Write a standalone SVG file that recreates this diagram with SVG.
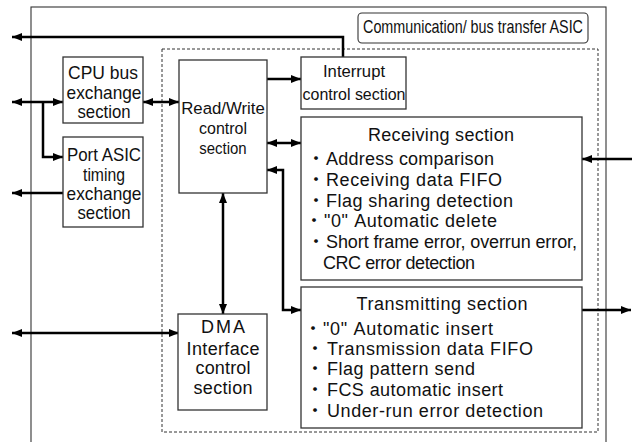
<svg xmlns="http://www.w3.org/2000/svg" width="632" height="442" viewBox="0 0 632 442">
  <defs>
    <marker id="arr" viewBox="0 0 10 8" refX="10" refY="4" markerWidth="10" markerHeight="8" markerUnits="userSpaceOnUse" orient="auto-start-reverse">
      <path d="M0,0 L10,4 L0,8 z" fill="#000"/>
    </marker>
  </defs>
  <style>
    .box { fill: #fff; stroke: #333; stroke-width: 1.3; }
    .outer { fill: none; stroke: #333; stroke-width: 1.1; }
    .dash { fill: none; stroke: #333; stroke-width: 1; stroke-dasharray: 3 2; }
    .t { font-family: "Liberation Sans", Arial, "Noto Sans CJK JP", sans-serif; font-size: 18px; fill: #111; }
    .c { text-anchor: middle; }
    .s17 { font-size: 17px; }
    .dot { font-family: "Noto Sans CJK JP", sans-serif; }
    .wire { fill: none; stroke: #000; stroke-width: 2.5; }
    .one { marker-end: url(#arr); }
    .two { marker-start: url(#arr); marker-end: url(#arr); }
  </style>

  <rect width="632" height="442" fill="#fff"/>

  <!-- ASIC enclosure and its name tag -->
  <g id="asic">
    <rect class="outer" x="31" y="7" width="575" height="460"/>
    <rect class="box" x="358" y="13" width="230" height="30" rx="4" ry="4" style="stroke-width:1.1"/>
    <text class="t c" transform="translate(473,33) scale(0.797,1)">Communication/ bus transfer ASIC</text>
  </g>

  <!-- inner dashed boundary -->
  <g id="core">
    <rect class="dash" x="162" y="49" width="436" height="383"/>
  </g>

  <!-- connectors -->
  <g id="connectors">
    <path class="wire one" d="M343,57 V37 H12"/>
    <path class="wire two" d="M12,102 H63"/>
    <path class="wire one" d="M43,102 V157 H63"/>
    <path class="wire one" d="M63,193 H12"/>
    <path class="wire two" d="M143,102 H179"/>
    <path class="wire one" d="M267,79 H301"/>
    <path class="wire two" d="M267,143 H301"/>
    <path class="wire two" d="M267,170 H283 V310 H301"/>
    <path class="wire two" d="M223,193 V314"/>
    <path class="wire two" d="M12,333 H179"/>
    <path class="wire one" d="M632,159 H582"/>
    <path class="wire one" d="M582,310 H631"/>
  </g>

  <!-- horizontally narrowed labels use scale(sx,1) about their anchor -->
  <g id="cpu-bus">
    <rect class="box" x="63" y="57" width="80" height="66"/>
    <text class="t c" transform="translate(103,79) scale(0.972,1)">CPU bus</text>
    <text class="t c" transform="translate(104,99) scale(0.961,1)">exchange</text>
    <text class="t c" transform="translate(104,118) scale(0.93,1)">section</text>
  </g>

  <g id="port-asic">
    <rect class="box" x="63" y="137" width="80" height="90"/>
    <text class="t c" transform="translate(104,161) scale(0.937,1)">Port ASIC</text>
    <text class="t c" transform="translate(104,181) scale(0.875,1)">timing</text>
    <text class="t c" transform="translate(104,200) scale(0.961,1)">exchange</text>
    <text class="t c" transform="translate(104,219) scale(0.93,1)">section</text>
  </g>

  <g id="read-write">
    <rect class="box" x="179" y="60" width="88" height="133"/>
    <text class="t c s17" transform="translate(223,114) scale(0.988,1)">Read/Write</text>
    <text class="t c s17" transform="translate(223,134) scale(0.94,1)">control</text>
    <text class="t c s17" transform="translate(223,154) scale(0.88,1)">section</text>
  </g>

  <g id="interrupt">
    <rect class="box" x="301" y="57" width="105" height="52"/>
    <text class="t c s17" transform="translate(354,77) scale(0.98,1)">Interrupt</text>
    <text class="t c s17" transform="translate(354,100) scale(0.94,1)">control section</text>
  </g>

  <g id="dma">
    <rect class="box" x="178" y="314" width="89" height="96"/>
    <text class="t c" x="223" y="333" textLength="44">DMA</text>
    <text class="t c" x="223" y="355" textLength="73">Interface</text>
    <text class="t c" x="223" y="374" textLength="55">control</text>
    <text class="t c" x="223" y="394" textLength="59">section</text>
  </g>

  <g id="receiving">
    <rect class="box" x="301" y="117" width="281" height="163"/>
    <text class="t c" x="441" y="141" textLength="146">Receiving section</text>
    <text class="t" y="165"><tspan class="dot" x="307">・</tspan><tspan x="326" textLength="168">Address comparison</tspan></text>
    <text class="t" y="186"><tspan class="dot" x="307">・</tspan><tspan x="326" textLength="176">Receiving data FIFO</tspan></text>
    <text class="t" y="207"><tspan class="dot" x="307">・</tspan><tspan x="326" textLength="187">Flag sharing detection</tspan></text>
    <text class="t" y="227"><tspan class="dot" x="305">・</tspan><tspan x="324" textLength="173">"0" Automatic delete</tspan></text>
    <text class="t" y="248"><tspan class="dot" x="307">・</tspan><tspan x="326" textLength="251">Short frame error, overrun error,</tspan></text>
    <text class="t" x="323" y="269" textLength="152">CRC error detection</text>
  </g>

  <g id="transmitting">
    <rect class="box" x="301" y="287" width="281" height="141"/>
    <text class="t c" x="442" y="310" textLength="171">Transmitting section</text>
    <text class="t" y="335"><tspan class="dot" x="304">・</tspan><tspan x="323" textLength="170">"0" Automatic insert</tspan></text>
    <text class="t" y="355"><tspan class="dot" x="306">・</tspan><tspan x="327" textLength="206">Transmission data FIFO</tspan></text>
    <text class="t" y="375"><tspan class="dot" x="306">・</tspan><tspan x="327" textLength="148">Flag pattern send</tspan></text>
    <text class="t" y="396"><tspan class="dot" x="306">・</tspan><tspan x="327" textLength="176">FCS automatic insert</tspan></text>
    <text class="t" y="417"><tspan class="dot" x="306">・</tspan><tspan x="327" textLength="216">Under-run error detection</tspan></text>
  </g>
</svg>
